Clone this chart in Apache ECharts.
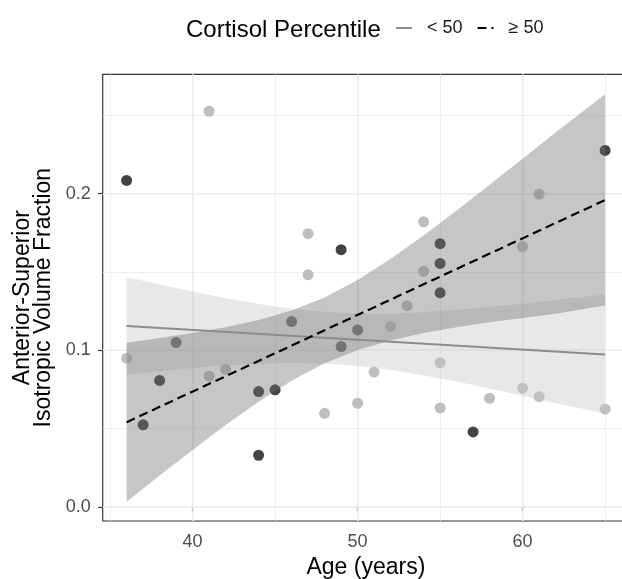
<!DOCTYPE html>
<html>
<head>
<meta charset="utf-8">
<title>Isotropic volume fraction by age</title>
<script src="https://cdn.jsdelivr.net/npm/echarts@6/dist/echarts.min.js"></script>
<style>
  html, body { margin: 0; padding: 0; background: #fff; }
  #main { width: 622px; height: 579px; }
</style>
</head>
<body>
<div id="main"></div>
<script>
// points, < 50 percentile group
var lowAge = [36, 41, 41, 42, 47, 47, 48, 50, 51, 52, 53, 54, 54, 55, 55, 58, 60, 60, 61, 61, 65];
var lowVal = [0.0949, 0.2526, 0.0834, 0.0878, 0.1744, 0.1481, 0.0597, 0.0661, 0.0860, 0.1151, 0.1284, 0.1820, 0.1504, 0.0921, 0.0631, 0.0693, 0.1662, 0.0757, 0.1997, 0.0703, 0.0623];

// points, >= 50 percentile group
var highAge = [36, 37, 38, 39, 44, 44, 45, 46, 49, 49, 50, 55, 55, 55, 57, 65];
var highVal = [0.2084, 0.0523, 0.0807, 0.1049, 0.0736, 0.0329, 0.0747, 0.1183, 0.1642, 0.1023, 0.1129, 0.1680, 0.1554, 0.1366, 0.0478, 0.2276];

// fitted lines (ends) and their confidence bands
var fitAge = [36, 65];
var fitLow = [0.1155, 0.0972];
var fitHigh = [0.0540, 0.1959];

var bandAge = [36, 38, 40, 42, 44, 46, 48, 50, 52, 54, 56, 58, 60, 62, 65];
var lowBandLo = [0.0843, 0.0865, 0.0886, 0.0902, 0.0913, 0.0919, 0.0914, 0.0899, 0.0873, 0.0839, 0.0800, 0.0756, 0.0709, 0.0661, 0.0595];
var lowBandHi = [0.1467, 0.1419, 0.1374, 0.1332, 0.1295, 0.1265, 0.1244, 0.1235, 0.1235, 0.1243, 0.1258, 0.1276, 0.1297, 0.1321, 0.1356];
var highBandLo = [0.0032, 0.0199, 0.0363, 0.0522, 0.0670, 0.0805, 0.0917, 0.1001, 0.1062, 0.1109, 0.1146, 0.1178, 0.1206, 0.1233, 0.1285];
var highBandHi = [0.1048, 0.1077, 0.1109, 0.1146, 0.1192, 0.1253, 0.1337, 0.1449, 0.1584, 0.1733, 0.1892, 0.2056, 0.2222, 0.2391, 0.2635];

var xTicks = [40, 50, 60];
var xMinor = [35, 45, 55, 65];
var yTicks = [0, 0.1, 0.2];
var yMinor = [0.05, 0.15, 0.25];

var FONT = 'Liberation Sans, Arial, Helvetica, sans-serif';

var chart = echarts.init(document.getElementById('main'), null, { renderer: 'canvas' });

function pairs(xs, ys) {
  return xs.map(function (x, i) { return [x, ys[i]]; });
}

function bandSeries(name, lo, hi, fill) {
  return {
    name: name,
    type: 'custom',
    coordinateSystem: 'cartesian2d',
    silent: true,
    z: 3,
    data: bandAge.map(function (x, i) { return [x, lo[i], hi[i]]; }),
    encode: { x: 0, y: [1, 2] },
    renderItem: function (params, api) {
      if (params.dataIndex !== 0) return;
      var pts = [];
      for (var i = 0; i < bandAge.length; i++) pts.push(api.coord([bandAge[i], hi[i]]));
      for (var j = bandAge.length - 1; j >= 0; j--) pts.push(api.coord([bandAge[j], lo[j]]));
      return { type: 'polygon', shape: { points: pts }, style: { fill: fill } };
    }
  };
}

var gridLines = [];
xTicks.forEach(function (v) { gridLines.push({ xAxis: v, lineStyle: { width: 1.6 } }); });
xMinor.forEach(function (v) { gridLines.push({ xAxis: v, lineStyle: { width: 0.8 } }); });
yTicks.forEach(function (v) { gridLines.push({ yAxis: v, lineStyle: { width: 1.6 } }); });
yMinor.forEach(function (v) { gridLines.push({ yAxis: v, lineStyle: { width: 0.8 } }); });

var option = {
  animation: false,
  textStyle: { fontFamily: FONT },
  title: {
    text: 'Cortisol Percentile',
    left: 181,
    top: 13,
    textStyle: { fontSize: 24, fontWeight: 'normal', color: '#000', fontFamily: FONT }
  },
  legend: {
    data: ['< 50', '≥ 50'],
    left: 390,
    top: 14,
    itemWidth: 16,
    itemHeight: 14,
    itemGap: 14,
    selectedMode: false,
    itemStyle: { opacity: 0 },
    formatter: function (name) { return '{pad|}' + name; },
    textStyle: {
      fontSize: 18, color: '#1a1a1a', fontFamily: FONT,
      rich: { pad: { width: 10 } }
    }
  },
  grid: {
    left: 102.7,
    right: -7,
    top: 74.3,
    bottom: 58,
    outerBoundsMode: 'none',
    show: true,
    backgroundColor: '#fff',
    borderColor: '#333',
    borderWidth: 1.2
  },
  xAxis: {
    type: 'value',
    min: 34.55,
    max: 66.45,
    name: 'Age (years)',
    nameLocation: 'middle',
    nameGap: 29,
    nameTextStyle: { fontSize: 23, color: '#000', fontFamily: FONT },
    axisLine: { show: false },
    axisTick: { customValues: xTicks, length: 4.5, lineStyle: { color: '#333', width: 1.2 } },
    axisLabel: { customValues: xTicks, margin: 12.5, fontSize: 18, color: '#4d4d4d', fontFamily: FONT },
    splitLine: { show: false }
  },
  yAxis: {
    type: 'value',
    min: -0.0091,
    max: 0.2762,
    name: 'Anterior-Superior\nIsotropic Volume Fraction',
    nameLocation: 'middle',
    nameRotate: 90,
    nameGap: 38,
    nameTextStyle: { fontSize: 23, lineHeight: 21, color: '#000', fontFamily: FONT },
    axisLine: { show: false },
    axisTick: { customValues: yTicks, length: 4.5, lineStyle: { color: '#333', width: 1.2 } },
    axisLabel: {
      customValues: yTicks, margin: 12, fontSize: 18, color: '#4d4d4d', fontFamily: FONT,
      formatter: function (v) { return v.toFixed(1); }
    },
    splitLine: { show: false }
  },
  series: [
    {
      name: 'pts < 50',
      type: 'scatter',
      z: 2,
      symbolSize: 11,
      itemStyle: { color: '#bebebe', opacity: 1 },
      data: pairs(lowAge, lowVal),
      markLine: {
        silent: true,
        z: 1,
        symbol: 'none',
        label: { show: false },
        lineStyle: { color: '#ebebeb', type: 'solid' },
        data: gridLines
      }
    },
    {
      name: 'pts ≥ 50',
      type: 'scatter',
      z: 2,
      symbolSize: 11,
      itemStyle: { color: '#444444', opacity: 1 },
      data: pairs(highAge, highVal)
    },
    bandSeries('band < 50', lowBandLo, lowBandHi, 'rgba(197,197,197,0.4)'),
    bandSeries('band ≥ 50', highBandLo, highBandHi, 'rgba(113,113,113,0.4)'),
    {
      name: '< 50',
      type: 'line',
      z: 4,
      symbol: 'none',
      silent: true,
      lineStyle: { color: '#8c8c8c', width: 2 },
      itemStyle: { color: '#8c8c8c' },
      data: pairs(fitAge, fitLow)
    },
    {
      name: '≥ 50',
      type: 'line',
      z: 4,
      symbol: 'none',
      silent: true,
      lineStyle: { color: '#000', width: 2.2, type: [9, 5] },
      itemStyle: { color: '#000' },
      data: pairs(fitAge, fitHigh)
    }
  ]
};

chart.setOption(option);
window.addEventListener('resize', chart.resize);
</script>
</body>
</html>
